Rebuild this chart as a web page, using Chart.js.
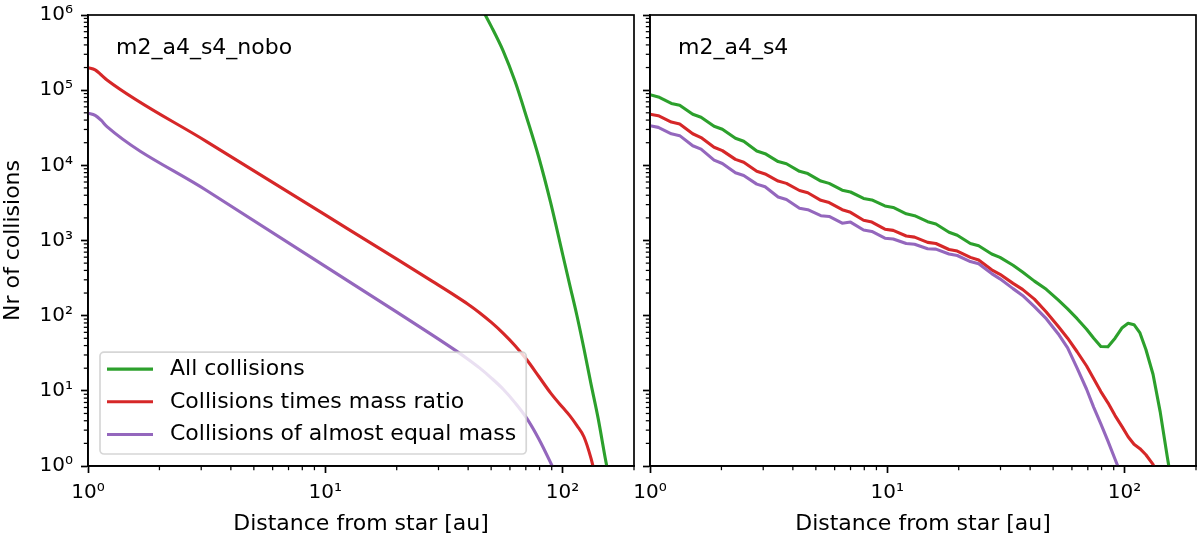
<!DOCTYPE html>
<html>
<head>
<meta charset="utf-8">
<script src="https://cdn.jsdelivr.net/npm/chart.js@4.4.1/dist/chart.umd.min.js"></script>
<style>
html,body{margin:0;padding:0;background:#fff;}
body{width:1200px;height:538px;position:relative;overflow:hidden;}
#cl{position:absolute;left:0;top:0;}
#cr{position:absolute;left:620px;top:0;}
</style>
</head>
<body>
<canvas id="cl" width="642" height="538"></canvas>
<canvas id="cr" width="584" height="538"></canvas>
<script>
// ---------- data ----------
const seriesLabels = ['All collisions', 'Collisions times mass ratio', 'Collisions of almost equal mass'];
const seriesColors = ['#2ca02c', '#d62728', '#9467bd'];
const panelNames = ['m2_a4_s4_nobo', 'm2_a4_s4'];
const xAxisTitle = 'Distance from star [au]';
const yAxisTitle = 'Nr of collisions';

const xTickValues = [1,2,3,4,5,6,7,8,9,10,20,30,40,50,60,70,80,90,100,200];
const yTickValues = [1,2,3,4,5,6,7,8,9,
  10,20,30,40,50,60,70,80,90,
  100,200,300,400,500,600,700,800,900,
  1000,2000,3000,4000,5000,6000,7000,8000,9000,
  10000,20000,30000,40000,50000,60000,70000,80000,90000,
  100000,200000,300000,400000,500000,600000,700000,800000,900000,
  1000000];

// left panel (m2_a4_s4_nobo)
const xLeft = [1, 1.072, 1.135, 1.202, 3.162, 10, 19.95, 28.18, 35.48, 39.81, 44.67, 50.12, 56.23,
  63.10, 70.79, 79.43, 89.13, 100, 107.2, 114.8, 123.0, 131.8, 141.3, 151.4, 162.2];
const greenLeft = [null, null, null, null, null, null, null, null, null,
  2630000, 1380000, 700000, 331000, 130000, 42000, 12700, 3160, 661, 257, 102, 36.6, 12.3, 4.27, 1.26, 0.40];
const redLeft = [199500, 186200, 160300, 136500, 20700, 2188, 569, 288, 182, 142.9, 109.6, 81.3, 58.2,
  39.8, 25.7, 15.5, 9.33, 6.03, 4.68, 3.47, 2.45, 1.26, 0.50, null, null];
const purpleLeft = [49400, 46200, 39800, 32700, 4624, 452, 112.2, 55.6, 34.3, 26.6, 20.2, 14.8, 10.5,
  6.92, 4.27, 2.29, 1.10, 0.50, null, null, null, null, null, null, null];

// right panel (m2_a4_s4)
const xRight = [1.00, 1.084, 1.230, 1.334, 1.514, 1.641, 1.862, 2.018, 2.291, 2.483,
  2.818, 3.055, 3.467, 3.758, 4.266, 4.624, 5.248, 5.689, 6.457, 6.998,
  7.943, 8.610, 9.772, 10.59, 12.02, 13.03, 14.79, 16.03, 18.20, 19.72,
  22.39, 24.27, 27.54, 29.85, 33.88, 37.15, 41.69, 46.77, 52.48, 57.54,
  63.10, 69.18, 74.13, 79.43, 85.11, 91.20, 97.72, 103.5, 109.6, 116.1,
  123.0, 131.8, 141.3, 151.4, 162.2];
const greenRight = [87100, 81300, 66500, 63100, 47900, 43700, 33100, 30200, 22900, 20900,
  15500, 14300, 11220, 10500, 8318, 7762, 6166, 5754, 4677, 4416,
  3631, 3467, 2884, 2754, 2265, 2138, 1778, 1660, 1288, 1175,
  912, 851, 661, 596, 468, 380, 288, 224, 162, 123,
  91.2, 66.1, 50.1, 38.9, 38.5, 50.1, 69.2, 79.4, 75.9, 58.9,
  35.5, 16.6, 5.25, 1.32, 0.355];
const redRight = [47900, 45700, 37600, 35500, 26300, 23400, 17400, 15700, 12000, 10970,
  8318, 7674, 6166, 5754, 4624, 4315, 3428, 3199, 2570, 2371,
  1862, 1758, 1413, 1365, 1148, 1109, 944, 912, 759, 724,
  596, 550, 407, 355, 269, 224, 166, 112, 72.4, 50.1,
  33.1, 21.4, 14.5, 9.77, 6.92, 4.68, 3.31, 2.45, 1.95, 1.70,
  1.41, 1.05, 0.63, null, null];
const purpleRight = [33700, 32000, 26300, 24830, 18200, 16410, 11750, 10590, 7943, 7328,
  5623, 5188, 3802, 3508, 2692, 2570, 2138, 2089, 1698, 1758,
  1380, 1318, 1072, 1047, 912, 891, 776, 767, 661, 631,
  525, 490, 363, 309, 229, 186, 132, 91.2, 57.5, 37.2,
  20.0, 10.5, 6.03, 3.63, 2.14, 1.23, 0.71, null, null, null,
  null, null, null, null, null];

// ---------- helpers ----------
Chart.defaults.font.family = "'DejaVu Sans', sans-serif";
Chart.defaults.color = '#000';
const SUP = ['\u2070','\u00B9','\u00B2','\u00B3','\u2074','\u2075','\u2076','\u2077'];
function isMajor(v){ const l = Math.log10(v); return Math.abs(l - Math.round(l)) < 1e-6; }
function powLabel(v){ return isMajor(v) ? '10' + SUP[Math.round(Math.log10(v))] : ''; }

const framePlugin = {
  id: 'frame',
  afterDraw(chart, args, opts){
    const ctx = chart.ctx, a = chart.chartArea;
    const xs = chart.scales.x, ys = chart.scales.y;
    ctx.save();
    ctx.strokeStyle = '#000';
    ctx.lineWidth = 1.25;
    xs.ticks.forEach(t => {
      if (isMajor(t.value)) return;
      const p = xs.getPixelForValue(t.value);
      ctx.beginPath(); ctx.moveTo(p, a.bottom); ctx.lineTo(p, a.bottom + 4.2); ctx.stroke();
    });
    ys.ticks.forEach(t => {
      if (isMajor(t.value)) return;
      const p = ys.getPixelForValue(t.value);
      ctx.beginPath(); ctx.moveTo(a.left, p); ctx.lineTo(a.left - 4.2, p); ctx.stroke();
    });
    ctx.lineWidth = 1.7;
    ctx.strokeRect(a.left, a.top, a.right - a.left, a.bottom - a.top);
    ctx.fillStyle = '#000';
    ctx.font = "22px 'DejaVu Sans'";
    ctx.textAlign = 'left';
    ctx.textBaseline = 'alphabetic';
    ctx.fillText(opts.name, a.left + 28, a.top + 39);
    ctx.restore();
  }
};

const boxLegendPlugin = {
  id: 'boxLegend',
  afterDatasetsDraw(chart, args, opts){
    if (!opts.show) return;
    const ctx = chart.ctx, a = chart.chartArea;
    const ds = chart.data.datasets;
    ctx.save();
    ctx.font = "22px 'DejaVu Sans'";
    const tw = Math.max(...ds.map(d => ctx.measureText(d.label).width));
    const rowH = 32.7;
    const w = 7 + 46 + 17 + tw + 10;
    const h = 17 + rowH * (ds.length - 1) + 19.5;
    const x0 = a.left + 12, y0 = a.bottom - 12 - h;
    ctx.beginPath();
    ctx.roundRect(x0, y0, w, h, 4);
    ctx.fillStyle = 'rgba(255,255,255,0.8)';
    ctx.fill();
    ctx.strokeStyle = 'rgba(204,204,204,0.8)';
    ctx.lineWidth = 1.7;
    ctx.stroke();
    ds.forEach((d, i) => {
      const y = y0 + 17 + i * rowH;
      ctx.strokeStyle = d.borderColor;
      ctx.lineWidth = 3.1;
      ctx.beginPath(); ctx.moveTo(x0 + 7, y); ctx.lineTo(x0 + 53, y); ctx.stroke();
      ctx.fillStyle = '#000';
      ctx.textAlign = 'left';
      ctx.textBaseline = 'middle';
      ctx.fillText(d.label, x0 + 70, y);
    });
    ctx.restore();
  }
};

function buildDatasets(xs, seriesList, smooth){
  return seriesList.map((vals, i) => ({
    label: seriesLabels[i],
    data: xs.map((x, j) => ({x: x, y: vals[j]})),
    borderColor: seriesColors[i],
    backgroundColor: seriesColors[i],
    borderWidth: 3.1,
    pointRadius: 0,
    pointHoverRadius: 0,
    fill: false,
    spanGaps: false,
    clip: 0,
    order: seriesList.length - i,
    borderJoinStyle: 'round',
    tension: 0,
    cubicInterpolationMode: smooth ? 'monotone' : 'default'
  }));
}

function gridOpts(){
  return {
    display: true, drawOnChartArea: false, drawTicks: true,
    tickLength: 7, tickWidth: 1.7,
    tickColor: c => (c.tick && isMajor(c.tick.value)) ? '#000' : 'rgba(0,0,0,0)'
  };
}

function makeChart(id, xs, seriesList, opt){
  return new Chart(document.getElementById(id), {
    type: 'line',
    data: { datasets: buildDatasets(xs, seriesList, opt.smooth) },
    options: {
      responsive: false,
      animation: false,
      devicePixelRatio: 1,
      events: [],
      layout: { padding: { left: 0, top: 15, right: 8, bottom: 0 } },
      scales: {
        x: {
          type: 'logarithmic', position: 'bottom', min: 1, max: 200,
          afterBuildTicks: s => { s.ticks = xTickValues.map(v => ({value: v})); },
          afterFit: s => { s.height = 72; },
          ticks: { autoSkip: false, maxRotation: 0, minRotation: 0, padding: 8,
                   font: { size: 20 }, color: '#000', callback: v => powLabel(v) },
          grid: gridOpts(),
          border: { display: true, color: '#000', width: 1.7 },
          title: { display: true, text: xAxisTitle, color: '#000', font: { size: 22 },
                   padding: { top: 0, bottom: 1 } }
        },
        y: {
          type: 'logarithmic', position: 'left', min: 1, max: 1000000,
          afterBuildTicks: s => { s.ticks = yTickValues.map(v => ({value: v})); },
          afterFit: s => { s.width = opt.yWidth; },
          ticks: { autoSkip: false, padding: 8, font: { size: 20, lineHeight: 0.7 }, color: '#000',
                   callback: v => opt.yLabels ? powLabel(v) : '' },
          grid: gridOpts(),
          border: { display: true, color: '#000', width: 1.7 },
          title: { display: opt.yLabels, text: yAxisTitle, color: '#000', font: { size: 22 },
                   padding: { top: 0, bottom: 0 } }
        }
      },
      plugins: {
        legend: { display: false },
        tooltip: { enabled: false },
        frame: { name: opt.name },
        boxLegend: { show: opt.legend }
      }
    },
    plugins: [framePlugin, boxLegendPlugin]
  });
}

makeChart('cl', xLeft, [greenLeft, redLeft, purpleLeft],
  { smooth: true, yWidth: 88, yLabels: true, legend: true, name: panelNames[0] });
makeChart('cr', xRight, [greenRight, redRight, purpleRight],
  { smooth: false, yWidth: 30, yLabels: false, legend: false, name: panelNames[1] });
</script>
</body>
</html>
